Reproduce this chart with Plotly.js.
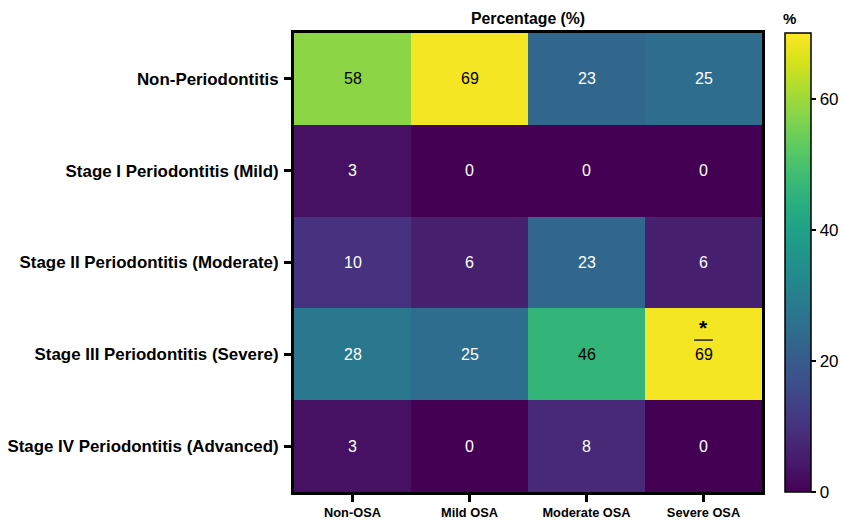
<!DOCTYPE html>
<html><head><meta charset="utf-8">
<script src="https://cdn.plot.ly/plotly-3.0.1.min.js"></script>
<style>body{margin:0;background:#fff}#c{width:842px;height:522px}</style>
</head><body><div id="c"></div>
<script>
const osaGroups = ["Non-OSA", "Mild OSA", "Moderate OSA", "Severe OSA"];
const perioStages = ["Non-Periodontitis", "Stage I Periodontitis (Mild)", "Stage II Periodontitis (Moderate)", "Stage III Periodontitis (Severe)", "Stage IV Periodontitis (Advanced)"];
const nonPerio = [58, 69, 23, 25];
const stage1 = [3, 0, 0, 0];
const stage2 = [10, 6, 23, 6];
const stage3 = [28, 25, 46, 69];
const stage4 = [3, 0, 8, 0];
const significant = [[3, 3]]; // [rowIndex, colIndex] marked with *
const colorbarTicks = [0, 20, 40, 60];
const chartTitle = "Percentage (%)";
const colorbarTitle = "%";

const z = [nonPerio, stage1, stage2, stage3, stage4];
const FONT = "Liberation Sans, Arial, sans-serif";

const annotations = [];
const shapes = [];
z.forEach((row, ri) => row.forEach((v, ci) => {
  annotations.push({x: osaGroups[ci], y: perioStages[ri], xref: 'x', yref: 'y', text: String(v),
    showarrow: false, font: {family: FONT, size: 16, color: v >= 40 ? '#000' : '#fff'}});
}));
significant.forEach(([ri, ci]) => {
  annotations.push({x: osaGroups[ci], y: perioStages[ri], xref: 'x', yref: 'y', text: '<b>*</b>',
    showarrow: false, yshift: 27, font: {family: FONT, size: 21, color: '#000'}});
  shapes.push({type: 'line', xref: 'x', yref: 'y', x0: ci - 0.08, x1: ci + 0.08, y0: ri - 0.155, y1: ri - 0.155,
    line: {color: '#222', width: 1.5}});
});
annotations.push({xref: 'paper', yref: 'paper', x: 0.5, y: 1, yanchor: 'bottom', yshift: 4, showarrow: false,
  text: '<b>' + chartTitle + '</b>', font: {family: FONT, size: 15.8, color: '#000'}});
annotations.push({xref: 'paper', yref: 'paper', x: 1.076, y: 1, yanchor: 'bottom', yshift: 4, showarrow: false,
  text: '<b>' + colorbarTitle + '</b>', font: {family: FONT, size: 15, color: '#000'}});

const trace = {
  type: 'heatmap', x: osaGroups, y: perioStages, z: z,
  zmin: 0, zmax: 70, colorscale: 'Viridis', hoverinfo: 'skip',
  colorbar: {
    x: 1.028, xanchor: 'left', y: 0, yanchor: 'bottom', len: 1, lenmode: 'fraction', ypad: 0,
    thickness: 26, outlinewidth: 1.5, outlinecolor: '#000',
    tickvals: colorbarTicks, ticks: 'outside', ticklen: 5, tickwidth: 2, tickcolor: '#000',
    tickfont: {family: FONT, size: 17, color: '#000'}
  }
};

const layout = {
  width: 842, height: 522,
  margin: {l: 294, r: 80, t: 33, b: 30, autoexpand: false},
  paper_bgcolor: '#fff', plot_bgcolor: '#fff',
  xaxis: {showline: true, linewidth: 3, linecolor: '#000', mirror: true, ticks: 'outside', ticklen: 7, tickwidth: 3, tickcolor: '#000',
    tickfont: {family: FONT, size: 12.8, color: '#000', weight: 'bold'}, showgrid: false, zeroline: false},
  yaxis: {autorange: 'reversed', showline: true, linewidth: 3, linecolor: '#000', mirror: true, ticks: 'outside', ticklen: 7, tickwidth: 3, tickcolor: '#000',
    tickfont: {family: FONT, size: 16.9, color: '#000', weight: 'bold'}, showgrid: false, zeroline: false, ticklabelstandoff: 2},
  annotations: annotations,
  shapes: shapes
};

Plotly.newPlot('c', [trace], layout, {displayModeBar: false, staticPlot: true});
</script>
</body></html>
